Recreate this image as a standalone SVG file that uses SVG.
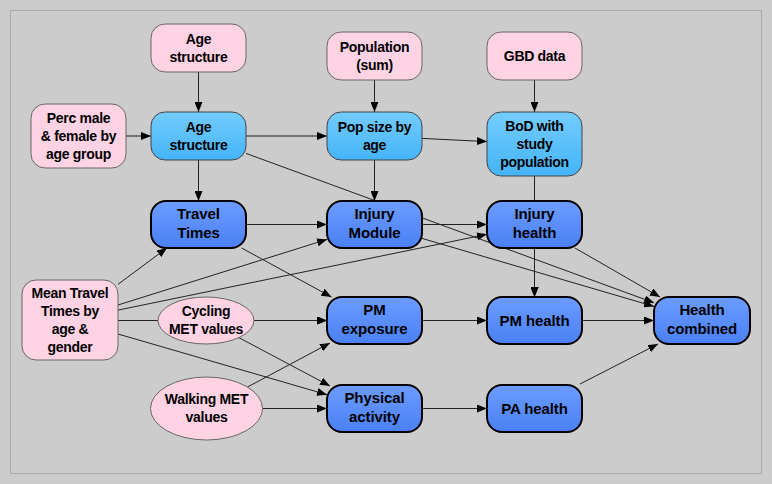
<svg xmlns="http://www.w3.org/2000/svg" width="772" height="484" viewBox="0 0 772 484">
<defs>
<marker id="arr" viewBox="0 0 10 8" refX="10" refY="4" markerWidth="10" markerHeight="8" markerUnits="userSpaceOnUse" orient="auto">
<path d="M0,0 L10,4 L0,8 z" fill="#000"/>
</marker>
<linearGradient id="gLight" x1="0" y1="0" x2="0" y2="1">
<stop offset="0" stop-color="#74ccff"/>
<stop offset="1" stop-color="#44b4f7"/>
</linearGradient>
<linearGradient id="gDark" x1="0" y1="0" x2="0" y2="1">
<stop offset="0" stop-color="#6c9cff"/>
<stop offset="1" stop-color="#4a80f4"/>
</linearGradient>
</defs>
<style>
.pink{fill:#ffd3e4;stroke:#666;stroke-width:1}
.light{fill:url(#gLight);stroke:#444;stroke-width:1}
.dark{fill:url(#gDark);stroke:#000;stroke-width:2}
text{font-family:"Liberation Sans",Arial,sans-serif;font-size:14px;font-weight:bold;letter-spacing:-0.3px;text-anchor:middle;fill:#000}
text.d{font-size:15px;letter-spacing:-0.1px}
#connectors path{fill:none;stroke:#222;stroke-width:1;marker-end:url(#arr)}
</style>
<rect x="0" y="0" width="772" height="484" fill="#cccccc"/>
<rect x="10.5" y="10.5" width="751" height="463" fill="#cccccc" stroke="#aaaaaa" stroke-width="1"/>

<g id="connectors">
<path d="M198.5,72 L198.5,112"/>
<path d="M126,136 L151,136"/>
<path d="M246,136 L327,136"/>
<path d="M198.5,160 L198.5,201"/>
<path d="M246,153.4 L654,302.8"/>
<path d="M374.5,80 L374.5,112"/>
<path d="M422,138.4 L487,141.6"/>
<path d="M534.5,80 L534.5,112"/>
<path d="M534.5,176 L534.5,297"/>
<path d="M374.5,160 L374.5,201"/>
<path d="M246,224.5 L327,224.5"/>
<path d="M241.6,248 L331.5,297"/>
<path d="M422,224.5 L487,224.5"/>
<path d="M422,238.4 L654,306.4"/>
<path d="M575,248 L660,297"/>
<path d="M118,284.3 L166.9,248"/>
<path d="M118,305 L327,239.4"/>
<path d="M118,310.1 L487,234.3"/>
<path d="M118,320.5 L327,320.5"/>
<path d="M254,320.5 L327,320.5"/>
<path d="M118,334 L327,394.7"/>
<path d="M238.8,337.6 L330,386"/>
<path d="M247.5,387 L330,343"/>
<path d="M262.5,408.5 L327,408.5"/>
<path d="M422,408.5 L487,408.5"/>
<path d="M422,320.5 L487,320.5"/>
<path d="M582,320.5 L654,320.5"/>
<path d="M580,384 L658,344"/>
<path d="M534.5,248 L534.5,297"/>
</g>

<g id="age-structure-input">
<rect class="pink" x="151" y="24" width="95" height="48" rx="14"/>
<text x="198.5" y="43.7">Age</text>
<text x="198.5" y="61.7">structure</text>
</g>
<g id="population-sum">
<rect class="pink" x="327" y="32" width="95" height="48" rx="14"/>
<text x="374.5" y="51.7">Population</text>
<text x="374.5" y="69.7">(sum)</text>
</g>
<g id="gbd-data">
<rect class="pink" x="487" y="32" width="95" height="48" rx="14"/>
<text x="534.5" y="60.7">GBD data</text>
</g>
<g id="perc-male-female">
<rect class="pink" x="31" y="104" width="95" height="64" rx="14"/>
<text x="78.5" y="122.7">Perc male</text>
<text x="78.5" y="140.7">&amp; female by</text>
<text x="78.5" y="158.7">age group</text>
</g>
<g id="age-structure">
<rect class="light" x="151" y="112" width="95" height="48" rx="14"/>
<text x="198.5" y="131.7">Age</text>
<text x="198.5" y="149.7">structure</text>
</g>
<g id="pop-size-by-age">
<rect class="light" x="327" y="112" width="95" height="48" rx="14"/>
<text x="374.5" y="131.7">Pop size by</text>
<text x="374.5" y="149.7">age</text>
</g>
<g id="bod-study-population">
<rect class="light" x="487" y="112" width="95" height="64" rx="14"/>
<text x="534.5" y="130.7">BoD with</text>
<text x="534.5" y="148.7">study</text>
<text x="534.5" y="166.7">population</text>
</g>
<g id="travel-times">
<rect class="dark" x="151" y="201" width="95" height="47" rx="15"/>
<text class="d" x="198.5" y="219">Travel</text>
<text class="d" x="198.5" y="238">Times</text>
</g>
<g id="injury-module">
<rect class="dark" x="327" y="201" width="95" height="47" rx="15"/>
<text class="d" x="374.5" y="219">Injury</text>
<text class="d" x="374.5" y="238">Module</text>
</g>
<g id="injury-health">
<rect class="dark" x="487" y="201" width="95" height="47" rx="15"/>
<text class="d" x="534.5" y="219">Injury</text>
<text class="d" x="534.5" y="238">health</text>
</g>
<g id="mean-travel-times">
<rect class="pink" x="22" y="280" width="96" height="80" rx="14"/>
<text x="70" y="297.5">Mean Travel</text>
<text x="70" y="315.5">Times by</text>
<text x="70" y="333.5">age &amp;</text>
<text x="70" y="351.5">gender</text>
</g>
<g id="cycling-met">
<ellipse class="pink" cx="206" cy="320.5" rx="48" ry="23.5"/>
<text x="206" y="316.2">Cycling</text>
<text x="206" y="334.2">MET values</text>
</g>
<g id="walking-met">
<ellipse class="pink" cx="206.5" cy="408.5" rx="56" ry="31.5"/>
<text x="206.5" y="404.2">Walking MET</text>
<text x="206.5" y="422.2">values</text>
</g>
<g id="pm-exposure">
<rect class="dark" x="327" y="297" width="95" height="47" rx="15"/>
<text class="d" x="374.5" y="315">PM</text>
<text class="d" x="374.5" y="334">exposure</text>
</g>
<g id="pm-health">
<rect class="dark" x="487" y="297" width="95" height="47" rx="15"/>
<text class="d" x="534.5" y="325.5">PM health</text>
</g>
<g id="health-combined">
<rect class="dark" x="654" y="297" width="96" height="47" rx="15"/>
<text class="d" x="702" y="315">Health</text>
<text class="d" x="702" y="334">combined</text>
</g>
<g id="physical-activity">
<rect class="dark" x="327" y="385" width="95" height="47" rx="15"/>
<text class="d" x="374.5" y="403">Physical</text>
<text class="d" x="374.5" y="422">activity</text>
</g>
<g id="pa-health">
<rect class="dark" x="487" y="385" width="95" height="47" rx="15"/>
<text class="d" x="534.5" y="413.5">PA health</text>
</g>
</svg>
